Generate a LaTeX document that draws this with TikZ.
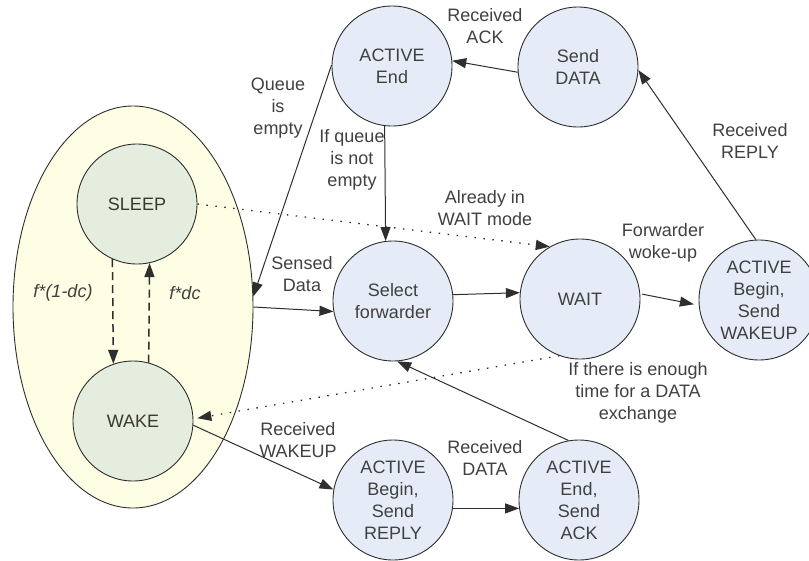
\documentclass[tikz,border=0pt]{standalone}
\usepackage{fontspec}
\setmainfont{Liberation Sans}
\usetikzlibrary{arrows.meta,shapes.geometric}
\definecolor{cfill}{HTML}{E6ECF7}
\definecolor{gfill}{HTML}{E5EDDE}
\definecolor{efill}{HTML}{FEFEE4}
\definecolor{ink}{HTML}{2E2E2E}
\definecolor{txt}{HTML}{404040}
\definecolor{gtxt}{HTML}{3A3A2C}
\tikzset{
  state/.style={circle, draw=ink, line width=0.9pt, fill=cfill, minimum size=120pt, inner sep=0pt,
    align=center, text=txt, font=\fontsize{18}{22}\selectfont},
  gstate/.style={state, fill=gfill, text=gtxt},
  lbl/.style={align=center, text=txt, inner sep=0pt, font=\fontsize{18}{22}\selectfont},
  ilbl/.style={lbl, font=\fontsize{18}{22}\selectfont\itshape},
  arr/.style={draw=ink, line width=1pt, -{Triangle[length=14pt,width=10pt]}},
  dotarr/.style={arr, line width=1.3pt, dash pattern=on 1.5pt off 7.5pt},
  dasharr/.style={arr, line width=1.5pt, dash pattern=on 8pt off 5pt}
}
\begin{document}
\begin{tikzpicture}[x=1pt,y=-1pt]
\useasboundingbox (0,0) rectangle (809,560);
\node[ellipse, draw=ink, line width=0.9pt, fill=efill, minimum width=240pt, minimum height=402pt, inner sep=0pt] (grp) at (133,307) {};
\node[gstate] (sleep) at (137,204) {SLEEP};
\node[gstate] (wake) at (133,421) {WAKE};
\node[state] (actend) at (392,66) {ACTIVE\\End};
\node[state] (senddata) at (578,67) {Send\\DATA};
\node[state] (select) at (393,301) {Select\\forwarder};
\node[state] (wait) at (580,299) {WAIT};
\node[state] (wakeup) at (759,300) {ACTIVE\\Begin,\\Send\\WAKEUP};
\node[state] (reply) at (393,500) {ACTIVE\\Begin,\\Send\\REPLY};
\node[state] (ack) at (579,500) {ACTIVE\\End,\\Send\\ACK};

% labels
\node[lbl] (lack) at (485,26) {Received\\ACK};
\node[lbl] (lqueue) at (278,108) {Queue\\is\\empty};
\node[lbl] (lnotempty) at (352,160) {If queue\\is not\\empty};
\node[lbl] (lalready) at (485,208) {Already in\\WAIT mode};
\node[lbl] (lsensed) at (302,274) {Sensed\\Data};
\node[lbl] (lwoke) at (663,243) {Forwarder\\woke-up};
\node[lbl] (lreply) at (750,141) {Received\\REPLY};
\node[lbl] (lenough) at (638,393) {If there is enough\\time for a DATA\\exchange};
\node[lbl] (lwakeup) at (298,440) {Received\\WAKEUP};
\node[lbl] (ldata) at (485,458) {Received\\DATA};
\node[ilbl] (lf1) at (63,293) {f*(1-dc)};
\node[ilbl] (lf2) at (185,293) {f*dc};

% connectors
\draw[arr] (senddata.185) -- (actend.5);
\draw[arr] (actend.179) -- (grp.5);
\draw[arr] (grp.east) -- (select.190);
\draw[arr] (actend.263) -- (select.97);
\draw[arr] (select.6) -- (wait.174);
\draw[arr, shorten <=2pt, shorten >=5pt] (wait.5) -- (wakeup.185);
\draw[arr] (wakeup.93) -- (senddata.-3);
\draw[dotarr] (sleep.east) -- (wait.120);
\draw[arr] (reply.-8) -- (ack.188);
\draw[arr] (ack.100) -- (select.-86);
\draw[dotarr, shorten >=4pt] (wait.250) -- (wake.2);
\draw[arr] (wake.-4) -- (reply.170);
\draw[dasharr] (sleep.-114) -- (wake.109);
\draw[dasharr] (wake.75) -- (sleep.-78);
\end{tikzpicture}
\end{document}
